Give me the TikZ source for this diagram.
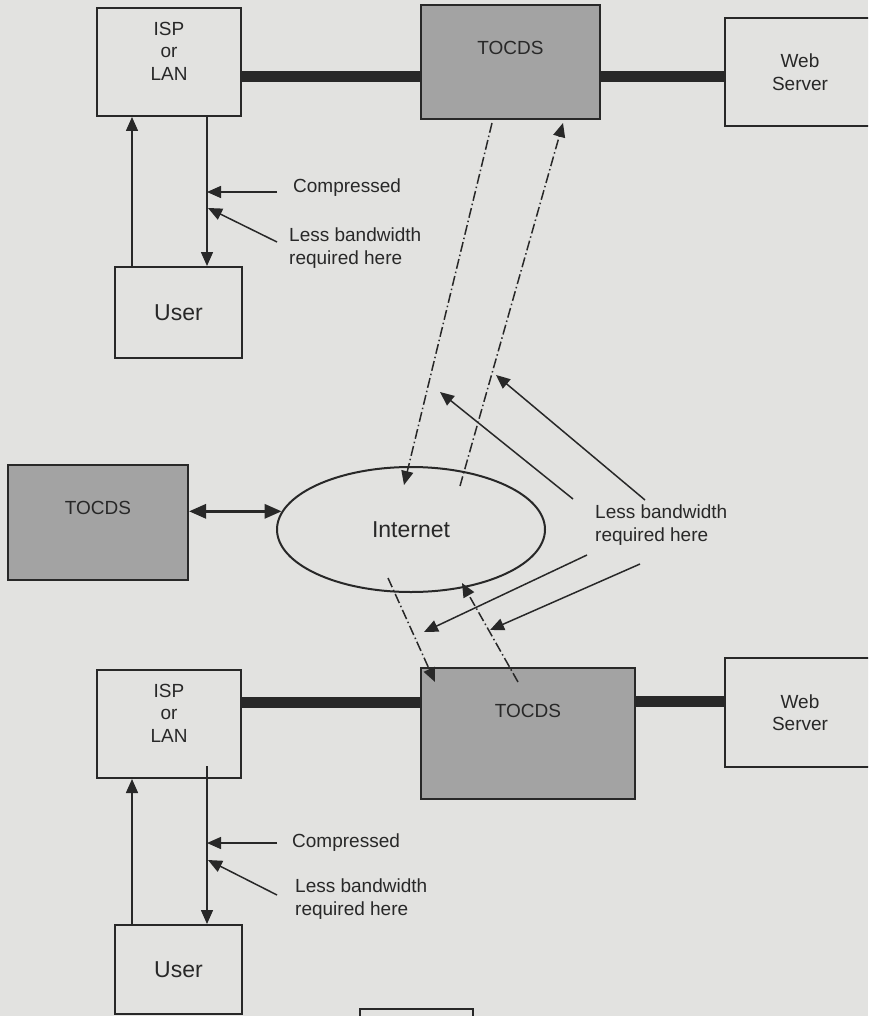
\documentclass[tikz,border=0pt]{standalone}
\usepackage{fontspec}
\setmainfont{Liberation Sans}
\usetikzlibrary{arrows.meta,shapes.geometric}

\definecolor{paper}{RGB}{226,226,224}
\definecolor{boxgray}{RGB}{163,163,163}
\definecolor{ink}{RGB}{40,40,40}

\begin{document}
\begin{tikzpicture}[x=1pt, y=-1pt,
  box/.style={draw=ink, line width=2pt, fill=paper, inner sep=0pt, align=center, text=ink, font=\fontsize{19}{22.5}\selectfont},
  proxy/.style={box, fill=boxgray},
  txt/.style={inner sep=0pt, align=center, text=ink, font=\fontsize{19}{22.5}\selectfont},
  note/.style={txt, anchor=west, align=left},
  big/.style={font=\fontsize{23}{27}\selectfont},
  bar/.style={draw=ink, line width=11pt},
  arr/.style={draw=ink, line width=1.5pt, -{Triangle[length=14pt, width=12pt]}},
  dd/.style={arr, dash pattern=on 10pt off 3pt on 1.5pt off 3pt},
  both/.style={draw=ink, line width=3pt, {Triangle[length=17pt, width=14pt]}-{Triangle[length=17pt, width=14pt]}}]
\fill[paper] (0,0) rectangle (868,1016);
\useasboundingbox (0,0) rectangle (868,1016);
\clip (0,0) rectangle (868,1016);

% top site
\node[box, minimum width=144pt, minimum height=108pt] (isp1) at (169,62) {};
\node[txt] (isp1t) at ([yshift=11pt]isp1.center) {ISP\\or\\LAN};
\node[proxy, minimum width=179pt, minimum height=114pt] (tocds1) at (510.5,62) {};
\node[txt] (tocds1t) at ([yshift=14pt]tocds1.center) {TOCDS};
\node[box, minimum width=150pt, minimum height=108pt] (web1) at (800,72) {Web\\Server};
\node[box, big, minimum width=127pt, minimum height=91pt] (user1) at (178.5,312.5) {User};
\node[note] (comp1) at (293,188) {Compressed};
\node[note] (less1) at (289,248) {Less bandwidth\\required here};

% middle
\node[proxy, minimum width=180pt, minimum height=115pt] (tocds2) at (98,522.5) {};
\node[txt] (tocds2t) at ([yshift=14.5pt]tocds2.center) {TOCDS};
\node[ellipse, draw=ink, line width=2pt, big, text=ink, inner sep=0pt,
  minimum width=268pt, minimum height=125pt] (net) at (411,529.5) {Internet};
\node[note] (less2) at (595,525) {Less bandwidth\\required here};

% bottom site
\node[box, minimum width=144pt, minimum height=108pt] (isp2) at (169,724) {};
\node[txt] (isp2t) at ([yshift=11pt]isp2.center) {ISP\\or\\LAN};
\node[proxy, minimum width=214pt, minimum height=131pt] (tocds3) at (528,733.5) {};
\node[txt] (tocds3t) at ([yshift=22.5pt]tocds3.center) {TOCDS};
\node[box, minimum width=150pt, minimum height=109pt] (web2) at (800,712.5) {Web\\Server};
\node[box, big, minimum width=127pt, minimum height=89pt] (user2) at (178.5,969.5) {User};
\node[note] (comp2) at (292,843) {Compressed};
\node[note] (less3) at (295,899) {Less bandwidth\\required here};
\node[box, minimum width=113pt, minimum height=60pt] (next) at (416.5,1039) {};

% links
\draw[bar] (isp1.east) ++(0,15) -- ++(180,0);
\draw[bar] (tocds1.east) ++(0,15) -- ++(125,0);
\draw[bar] (isp2.east) ++(0,-22) -- ++(180,0);
\draw[bar] (tocds3.east) ++(0,-32.5) -- ++(90,0);

% user <-> isp
\coordinate (up1) at ([xshift=18pt]user1.north west);
\coordinate (dn1) at ([xshift=-36pt]user1.north east);
\draw[arr] (up1) -- (up1 |- isp1.south);
\draw[arr] (dn1 |- isp1.south) -- (dn1);
\coordinate (up2) at ([xshift=18pt]user2.north west);
\coordinate (dn2) at ([xshift=-36pt]user2.north east);
\draw[arr] (up2) -- (up2 |- isp2.south);
\draw[arr, shorten <=-13pt] (dn2 |- isp2.south) -- (dn2);

% pointers to the user lines
\coordinate (cp1) at (277,192);
\draw[arr] (cp1) -- (cp1 -| dn1);
\coordinate (ls1) at (277,242);
\draw[arr] (ls1) -- ++(-69,-34);
\coordinate (cp2) at (277,843);
\draw[arr] (cp2) -- (cp2 -| dn2);
\coordinate (ls2) at (277,895);
\draw[arr] (ls2) -- ++(-69,-35);

% tocds <-> internet
\draw[both] (tocds2.east |- net.172) -- (net.172);
\coordinate (d1s) at ([xshift=-18.5pt, yshift=-3pt]tocds1.south);
\coordinate (d1e) at (404,485);
\draw[dd] (d1s) -- (d1e);
\coordinate (d2s) at (460,486);
\coordinate (d2e) at (563,123);
\draw[dd] (d2s) -- (d2e);
\coordinate (d3s) at (388,578);
\coordinate (d3e) at (435,682);
\draw[dd] (d3s) -- (d3e);
\coordinate (d4s) at (518,682);
\coordinate (d4e) at (462,583);
\draw[dd] (d4s) -- (d4e);

% pointers from the middle note
\coordinate (m1) at (573,499); \coordinate (m1t) at (440,392);
\coordinate (m2) at (645,500); \coordinate (m2t) at (496,375);
\coordinate (m3) at (587,555); \coordinate (m3t) at (424,632);
\coordinate (m4) at (640,564); \coordinate (m4t) at (490,630);
\draw[arr] (m1) -- (m1t);
\draw[arr] (m2) -- (m2t);
\draw[arr] (m3) -- (m3t);
\draw[arr] (m4) -- (m4t);
\end{tikzpicture}
\end{document}
